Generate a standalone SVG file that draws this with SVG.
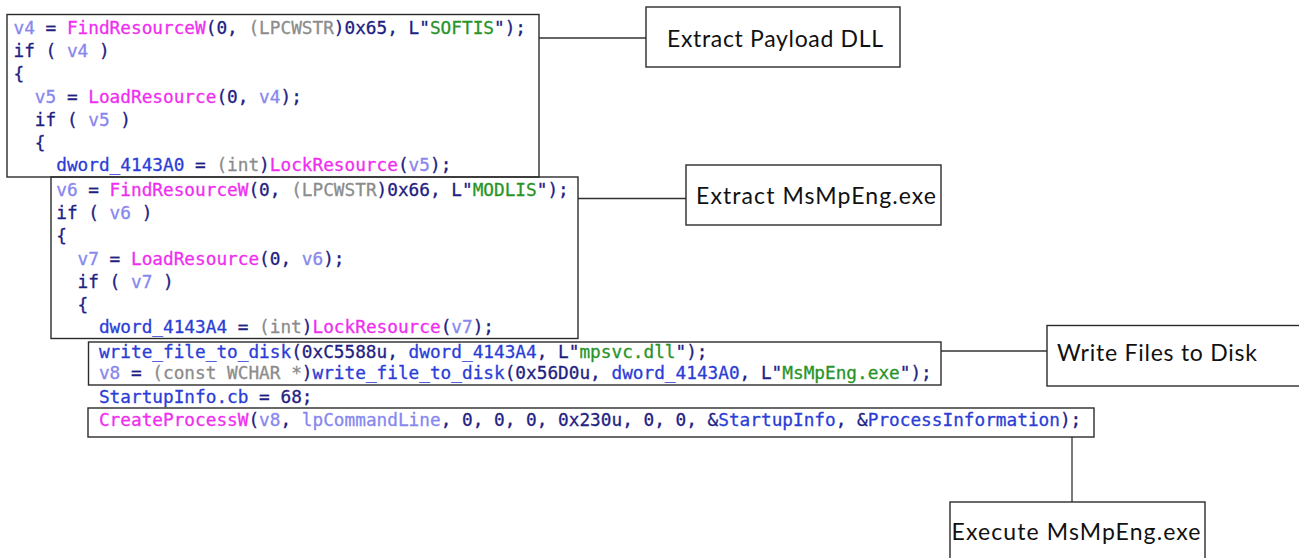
<svg xmlns="http://www.w3.org/2000/svg" width="1299" height="558" viewBox="0 0 1299 558">
<style>
.box{fill:none;stroke:#2b2b2b;stroke-width:1.4}
.lbox{fill:#fff;stroke:#2b2b2b;stroke-width:1.4}
.conn{fill:none;stroke:#333;stroke-width:1.3}
.c{font-family:"DejaVu Sans Mono","Liberation Mono",monospace;font-size:17.74px;fill:#1e2182;stroke:#1e2182;stroke-width:0.3;white-space:pre}
.v{fill:#8787ee;stroke:#8787ee}
.f{fill:#f02ef0;stroke:#f02ef0}
.g{fill:#8c8c8c;stroke:#8c8c8c}
.b{fill:#2b3dd6;stroke:#2b3dd6}
.s{fill:#289428;stroke:#289428}
.lbl{font-family:Lato,"Liberation Sans",sans-serif;font-size:23px;fill:#111}
</style>
<rect width="1299" height="558" fill="#fff"/>
<g id="connectors">
<line class="conn" x1="539" y1="38" x2="646" y2="38"/>
<line class="conn" x1="578" y1="198.5" x2="686" y2="198.5"/>
<line class="conn" x1="941" y1="351" x2="1047" y2="351"/>
<line class="conn" x1="1072" y1="437" x2="1072" y2="502"/>
</g>
<g id="code-softis">
<rect class="box" x="7" y="14.5" width="532" height="162.5"/>
<text class="c" xml:space="preserve" x="13.5" y="34"><tspan class="v">v4</tspan> = <tspan class="f">FindResourceW</tspan>(0, <tspan class="g">(LPCWSTR</tspan>)0x65, L"<tspan class="s">SOFTIS</tspan>");</text>
<text class="c" xml:space="preserve" x="13.5" y="56.9">if ( <tspan class="v">v4</tspan> )</text>
<text class="c" xml:space="preserve" x="13.5" y="79.8">{</text>
<text class="c" xml:space="preserve" x="34.86" y="102.7"><tspan class="v">v5</tspan> = <tspan class="f">LoadResource</tspan>(0, <tspan class="v">v4</tspan>);</text>
<text class="c" xml:space="preserve" x="34.86" y="125.6">if ( <tspan class="v">v5</tspan> )</text>
<text class="c" xml:space="preserve" x="34.86" y="148.5">{</text>
<text class="c" xml:space="preserve" x="56.22" y="171.4"><tspan class="b">dword_4143A0</tspan> = <tspan class="g">(int</tspan>)<tspan class="f">LockResource</tspan>(<tspan class="v">v5</tspan>);</text>
</g>
<g id="code-modlis">
<rect class="box" x="51" y="177" width="527" height="161.5"/>
<text class="c" xml:space="preserve" x="56.22" y="196"><tspan class="v">v6</tspan> = <tspan class="f">FindResourceW</tspan>(0, <tspan class="g">(LPCWSTR</tspan>)0x66, L"<tspan class="s">MODLIS</tspan>");</text>
<text class="c" xml:space="preserve" x="56.22" y="218.9">if ( <tspan class="v">v6</tspan> )</text>
<text class="c" xml:space="preserve" x="56.22" y="241.8">{</text>
<text class="c" xml:space="preserve" x="77.58" y="264.7"><tspan class="v">v7</tspan> = <tspan class="f">LoadResource</tspan>(0, <tspan class="v">v6</tspan>);</text>
<text class="c" xml:space="preserve" x="77.58" y="287.6">if ( <tspan class="v">v7</tspan> )</text>
<text class="c" xml:space="preserve" x="77.58" y="310.5">{</text>
<text class="c" xml:space="preserve" x="98.94" y="333.4"><tspan class="b">dword_4143A4</tspan> = <tspan class="g">(int</tspan>)<tspan class="f">LockResource</tspan>(<tspan class="v">v7</tspan>);</text>
</g>
<g id="code-write">
<rect class="box" x="88.5" y="342" width="852.5" height="43"/>
<text class="c" xml:space="preserve" x="98.94" y="357.5"><tspan class="b">write_file_to_disk</tspan>(0xC5588u, <tspan class="b">dword_4143A4</tspan>, L"<tspan class="s">mpsvc.dll</tspan>");</text>
<text class="c" xml:space="preserve" x="98.94" y="379"><tspan class="v">v8</tspan> = <tspan class="g">(const WCHAR *</tspan>)<tspan class="b">write_file_to_disk</tspan>(0x56D0u, <tspan class="b">dword_4143A0</tspan>, L"<tspan class="s">MsMpEng.exe</tspan>");</text>
</g>
<g id="code-startup">
<text class="c" xml:space="preserve" x="98.94" y="402.5"><tspan class="b">StartupInfo.cb</tspan> = 68;</text>
</g>
<g id="code-create">
<rect class="box" x="88" y="408" width="1006" height="29"/>
<text class="c" xml:space="preserve" x="98.94" y="426"><tspan class="f">CreateProcessW</tspan>(<tspan class="v">v8</tspan>, <tspan class="v">lpCommandLine</tspan>, 0, 0, 0, 0x230u, 0, 0, &amp;<tspan class="b">StartupInfo</tspan>, &amp;<tspan class="b">ProcessInformation</tspan>);</text>
</g>
<g id="label-payload">
<rect class="lbox" x="646" y="7" width="254" height="60"/>
<text class="lbl" x="667" y="47" textLength="216">Extract Payload DLL</text>
</g>
<g id="label-msmpeng">
<rect class="lbox" x="686" y="165" width="255" height="60"/>
<text class="lbl" x="696" y="203.5" textLength="240">Extract MsMpEng.exe</text>
</g>
<g id="label-write">
<rect class="lbox" x="1047" y="325.5" width="260" height="60.5"/>
<text class="lbl" x="1057" y="361" textLength="200">Write Files to Disk</text>
</g>
<g id="label-execute">
<rect class="lbox" x="950" y="502" width="255" height="70"/>
<text class="lbl" x="951.5" y="540" textLength="249">Execute MsMpEng.exe</text>
</g>
</svg>
